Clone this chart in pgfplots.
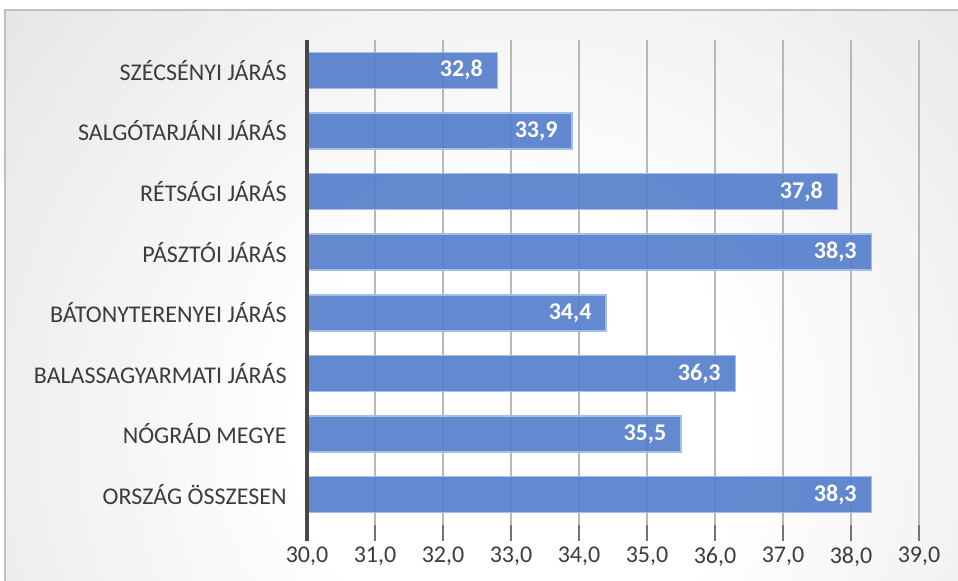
\documentclass[border=0pt]{standalone}
\usepackage{pgfplots}
\pgfplotsset{compat=1.18}
\usepackage{fontspec}
\setmainfont{Carlito}
\definecolor{barblue}{RGB}{86,128,204}
\definecolor{baredge}{RGB}{165,190,232}
\definecolor{txt}{RGB}{60,60,60}
\pgfdeclareradialshading{bgshade}{\pgfpoint{0bp}{0bp}}{color(0bp)=(white); color(8bp)=(white); color(50bp)=(black!26)}
\begin{document}
\begin{tikzpicture}
\useasboundingbox (0,0) rectangle (479pt,290.5pt);
\fill[white] (0,0) rectangle (479pt,290.5pt);
\begin{scope}
\clip (2.5pt,0) rectangle (479pt,285.5pt);
\shade[shading=bgshade] (-90pt,-274.5pt) rectangle (610pt,425.5pt);
\end{scope}
\draw[black!25, line width=0.8pt] (2.5pt,0) -- (2.5pt,285.5pt) -- (479pt,285.5pt);
\begin{axis}[
  at={(153.5pt,28pt)}, anchor=south west,
  scale only axis, width=306pt, height=242.5pt,
  xmin=30, xmax=39, ymin=-0.5, ymax=7.5,
  clip mode=individual,
  xtick={30,31,...,39},
  ytick={0,...,7},
  yticklabels={ORSZÁG ÖSSZESEN, NÓGRÁD MEGYE, BALASSAGYARMATI JÁRÁS, BÁTONYTERENYEI JÁRÁS, PÁSZTÓI JÁRÁS, RÉTSÁGI JÁRÁS, SALGÓTARJÁNI JÁRÁS, SZÉCSÉNYI JÁRÁS},
  axis x line*=bottom, x axis line style={draw=none},
  axis y line*=left, y axis line style={draw=none},
  xmajorgrids, major grid style={draw=black!28, line width=0.6pt},
  xtick align=outside, major tick length=8pt,
  xtick style={draw=black!55, line width=0.6pt},
  ytick style={draw=none},
  /pgf/number format/fixed, /pgf/number format/fixed zerofill, /pgf/number format/precision=1, /pgf/number format/use comma, /pgf/number format/assume math mode=true,
  tick label style={font=\fontsize{12pt}{13pt}\selectfont, text=txt},
  xticklabel style={inner sep=0pt, anchor=north, yshift=-3pt},
  yticklabel style={inner sep=0pt, anchor=east, xshift=-2pt},
  xbar, bar width=18pt,
  point meta=x,
  nodes near coords={\pgfmathprintnumber[fixed, fixed zerofill, precision=1, use comma, assume math mode=true]{\pgfplotspointmeta}},
  every node near coord/.append style={anchor=east, inner sep=0pt, xshift=-7pt, text=white, font=\fontsize{12pt}{13pt}\selectfont\bfseries},
]
\addplot[fill=barblue, fill opacity=0.92, draw=baredge, line width=0.75pt, text opacity=1] coordinates {
(38.3,0) (35.5,1) (36.3,2) (34.4,3) (38.3,4) (37.8,5) (33.9,6) (32.8,7)
};
\draw[black!72, line width=1.6pt] ([yshift=-8pt]axis cs:30,-0.5) -- (axis cs:30,7.5);
\end{axis}
\end{tikzpicture}
\end{document}
